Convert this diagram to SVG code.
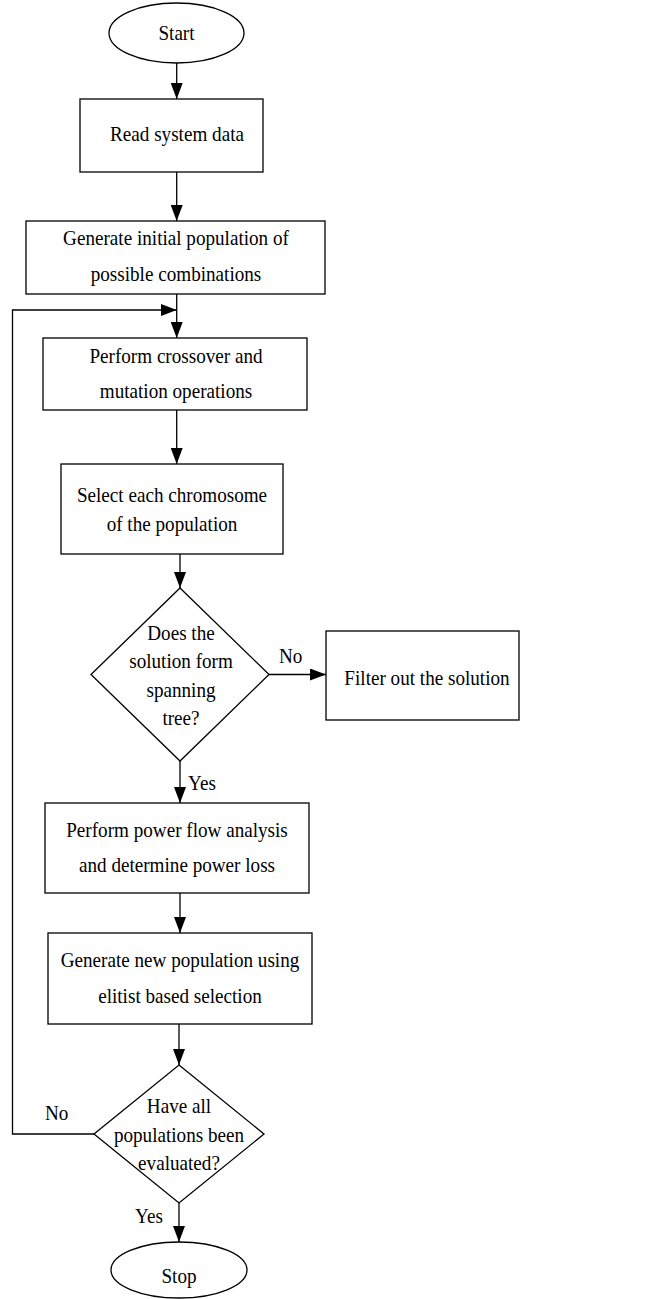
<svg xmlns="http://www.w3.org/2000/svg" width="650" height="1299" viewBox="0 0 650 1299">
<style>
.s{fill:#fff;stroke:#000;stroke-width:1.3}
.c{fill:none;stroke:#000;stroke-width:1.3}
text{font-family:"Liberation Serif","Times New Roman",serif;font-size:22px;fill:#000}
.m{text-anchor:middle}
</style>
<defs>
<marker id="ah" markerUnits="userSpaceOnUse" markerWidth="16" markerHeight="12" refX="16" refY="6" orient="auto">
<path d="M0,0 L16,6 L0,12 Z" fill="#000"/>
</marker>
</defs>
<rect width="650" height="1299" fill="#fff"/>
<g id="connectors">
<line class="c" x1="176.7" y1="63" x2="176.7" y2="99" marker-end="url(#ah)"/>
<line class="c" x1="176.7" y1="172" x2="176.7" y2="221" marker-end="url(#ah)"/>
<line class="c" x1="176.7" y1="294" x2="176.7" y2="338" marker-end="url(#ah)"/>
<line class="c" x1="176.7" y1="410" x2="176.7" y2="464" marker-end="url(#ah)"/>
<line class="c" x1="180" y1="554" x2="180" y2="588" marker-end="url(#ah)"/>
<line class="c" x1="269" y1="674.5" x2="326" y2="674.5" marker-end="url(#ah)"/>
<line class="c" x1="180" y1="761" x2="180" y2="803" marker-end="url(#ah)"/>
<line class="c" x1="180" y1="893" x2="180" y2="933" marker-end="url(#ah)"/>
<line class="c" x1="179" y1="1024" x2="179" y2="1065" marker-end="url(#ah)"/>
<line class="c" x1="179" y1="1203" x2="179" y2="1242" marker-end="url(#ah)"/>
<polyline class="c" points="94,1134 12.5,1134 12.5,310 176.7,310" marker-end="url(#ah)"/>
<text transform="matrix(0.87 0 0 1 279 663)">No</text>
<text transform="matrix(0.87 0 0 1 188 790)">Yes</text>
<text transform="matrix(0.87 0 0 1 45 1120)">No</text>
<text transform="matrix(0.87 0 0 1 135 1223)">Yes</text>
</g>
<g id="start">
<ellipse class="s" cx="176.5" cy="33" rx="67.5" ry="30"/>
<text class="m" transform="matrix(0.87 0 0 1 176.5 40)">Start</text>
</g>
<g id="read">
<rect class="s" x="80" y="99" width="183" height="73"/>
<text class="m" transform="matrix(0.87 0 0 1 177 141)">Read system data</text>
</g>
<g id="generate-initial">
<rect class="s" x="26" y="221" width="299" height="73"/>
<text class="m" transform="matrix(0.87 0 0 1 176 245)">Generate initial population of</text>
<text class="m" transform="matrix(0.87 0 0 1 176 281)">possible combinations</text>
</g>
<g id="crossover">
<rect class="s" x="43" y="338" width="264" height="72"/>
<text class="m" transform="matrix(0.87 0 0 1 176 363)">Perform crossover and</text>
<text class="m" transform="matrix(0.87 0 0 1 176 398)">mutation operations</text>
</g>
<g id="select">
<rect class="s" x="61" y="464" width="222" height="90"/>
<text class="m" transform="matrix(0.87 0 0 1 172 502)">Select each chromosome</text>
<text class="m" transform="matrix(0.87 0 0 1 172 531)">of the population</text>
</g>
<g id="spanning">
<polygon class="s" points="180,588 269,674.5 180,761 91,674.5"/>
<text class="m" transform="matrix(0.87 0 0 1 181 640)">Does the</text>
<text class="m" transform="matrix(0.87 0 0 1 181 668)">solution form</text>
<text class="m" transform="matrix(0.87 0 0 1 181 697)">spanning</text>
<text class="m" transform="matrix(0.87 0 0 1 181 725)">tree?</text>
</g>
<g id="filter">
<rect class="s" x="326" y="631" width="193" height="89"/>
<text class="m" transform="matrix(0.87 0 0 1 427 685)">Filter out the solution</text>
</g>
<g id="powerflow">
<rect class="s" x="45" y="803" width="264" height="90"/>
<text class="m" transform="matrix(0.87 0 0 1 177 837)">Perform power flow analysis</text>
<text class="m" transform="matrix(0.87 0 0 1 177 872)">and determine power loss</text>
</g>
<g id="generate-new">
<rect class="s" x="48" y="933" width="264" height="91"/>
<text class="m" transform="matrix(0.87 0 0 1 180 967)">Generate new population using</text>
<text class="m" transform="matrix(0.87 0 0 1 180 1003)">elitist based selection</text>
</g>
<g id="evaluated">
<polygon class="s" points="179,1065 264,1134 179,1203 94,1134"/>
<text class="m" transform="matrix(0.87 0 0 1 179 1113)">Have all</text>
<text class="m" transform="matrix(0.87 0 0 1 179 1142)">populations been</text>
<text class="m" transform="matrix(0.87 0 0 1 179 1170)">evaluated?</text>
</g>
<g id="stop">
<ellipse class="s" cx="179" cy="1270" rx="68" ry="28"/>
<text class="m" transform="matrix(0.87 0 0 1 179 1283)">Stop</text>
</g>
</svg>
